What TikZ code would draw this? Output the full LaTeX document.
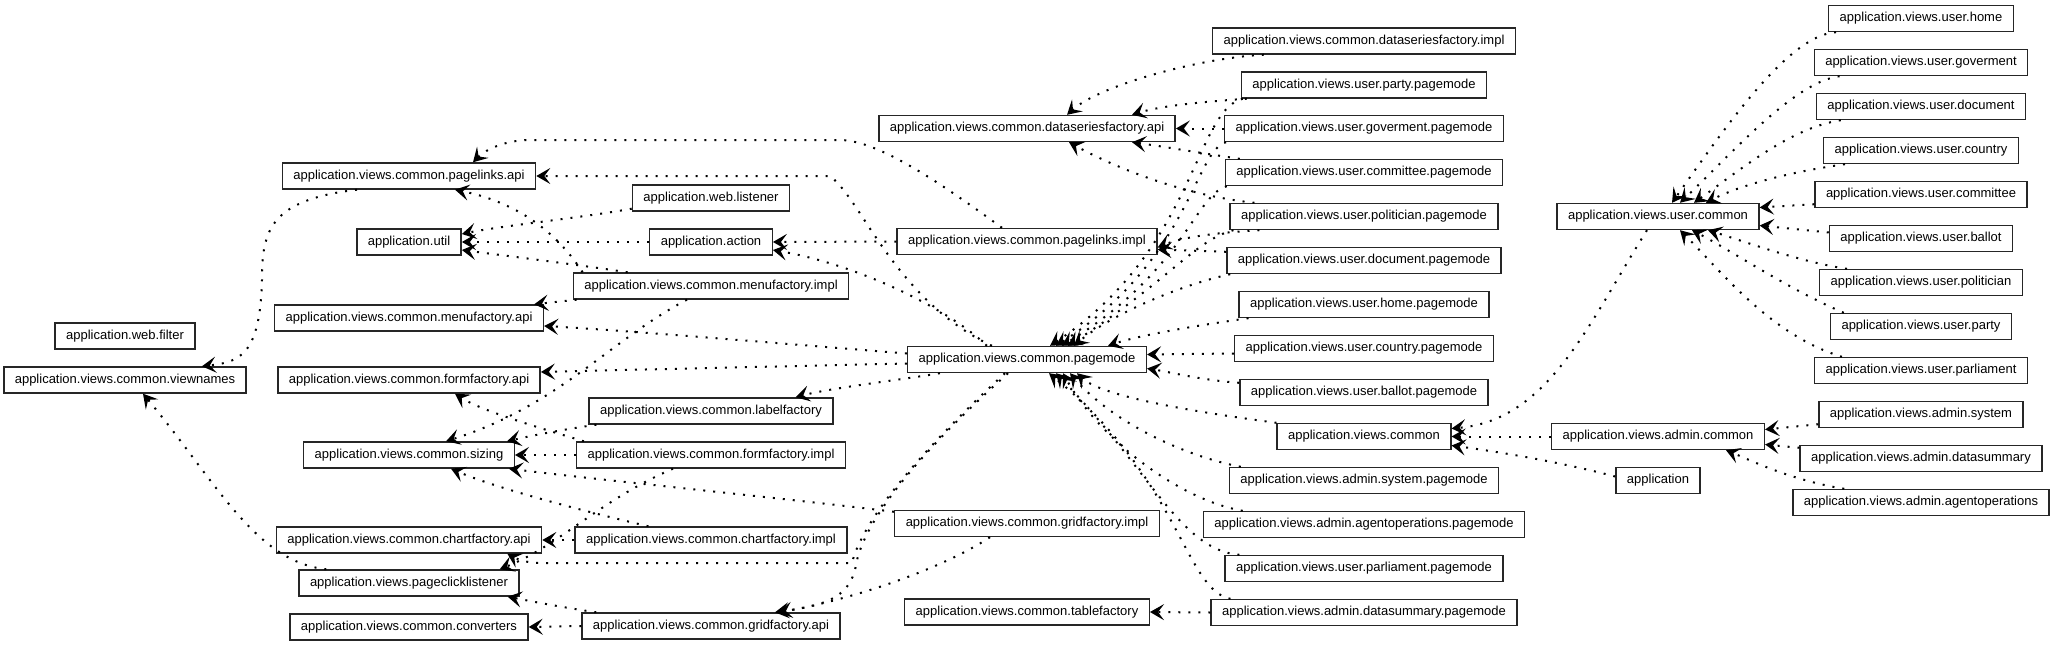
\documentclass[tikz,border=0pt]{standalone}
\usepackage{fontspec}
\setmainfont{Liberation Sans}
\usetikzlibrary{arrows.meta,calc}
\begin{document}
\begin{tikzpicture}[x=1pt,y=-1pt,
  box/.style={draw=black!85, line width=1.4pt, fill=white, inner xsep=11pt, inner ysep=0pt,
    minimum height=26pt, font=\fontsize{13}{15}\selectfont},
  dep/.style={line width=2pt, dash pattern=on 2pt off 8pt,
    -{Stealth[length=14pt,width=16pt,inset=6pt]}}]
\useasboundingbox (0,0) rectangle (2055,645);
% column A
\node[box] (wfilter) at (125,336) {application.web.filter};
\node[box] (viewnames) at (125,380) {application.views.common.viewnames};
% column B
\node[box] (pla) at (409,176) {application.views.common.pagelinks.api};
\node[box] (util) at (409,242) {application.util};
\node[box] (mfa) at (409,318) {application.views.common.menufactory.api};
\node[box] (ffa) at (409,380) {application.views.common.formfactory.api};
\node[box] (sizing) at (409,455) {application.views.common.sizing};
\node[box] (cfa) at (409,540) {application.views.common.chartfactory.api};
\node[box] (pcl) at (409,583) {application.views.pageclicklistener};
\node[box] (conv) at (409,627) {application.views.common.converters};
% column C
\node[box] (wlistener) at (711,198) {application.web.listener};
\node[box] (action) at (711,242) {application.action};
\node[box] (mfi) at (711,286) {application.views.common.menufactory.impl};
\node[box] (labelf) at (711,411) {application.views.common.labelfactory};
\node[box] (ffi) at (711,455) {application.views.common.formfactory.impl};
\node[box] (cfi) at (711,540) {application.views.common.chartfactory.impl};
\node[box] (gfa) at (711,626) {application.views.common.gridfactory.api};
% column D
\node[box] (dsfa) at (1027,128.5) {application.views.common.dataseriesfactory.api};
\node[box] (pli) at (1027,241.5) {application.views.common.pagelinks.impl};
\node[box] (pm) at (1027,359.5) {application.views.common.pagemode};
\node[box] (gfi) at (1027,523.5) {application.views.common.gridfactory.impl};
\node[box] (tablef) at (1027,612) {application.views.common.tablefactory};
% column E
\node[box] (dsfi) at (1364,41) {application.views.common.dataseriesfactory.impl};
\node[box] (party) at (1364,85) {application.views.user.party.pagemode};
\node[box] (gov) at (1364,128.5) {application.views.user.goverment.pagemode};
\node[box] (comm) at (1364,172.5) {application.views.user.committee.pagemode};
\node[box] (pol) at (1364,216.5) {application.views.user.politician.pagemode};
\node[box] (doc) at (1364,260.5) {application.views.user.document.pagemode};
\node[box] (home) at (1364,304.5) {application.views.user.home.pagemode};
\node[box] (country) at (1364,348.5) {application.views.user.country.pagemode};
\node[box] (ballot) at (1364,392.5) {application.views.user.ballot.pagemode};
\node[box] (vcommon) at (1364,436.5) {application.views.common};
\node[box] (asys) at (1364,480.5) {application.views.admin.system.pagemode};
\node[box] (aagent) at (1364,524.5) {application.views.admin.agentoperations.pagemode};
\node[box] (parl) at (1364,568.5) {application.views.user.parliament.pagemode};
\node[box] (adsum) at (1364,612.5) {application.views.admin.datasummary.pagemode};
% column F
\node[box] (ucommon) at (1658,216.5) {application.views.user.common};
\node[box] (acommon) at (1658,436.5) {application.views.admin.common};
\node[box] (app) at (1658,480.5) {application};
% column G
\node[box] (uhome) at (1921,18.5) {application.views.user.home};
\node[box] (ugov) at (1921,62.5) {application.views.user.goverment};
\node[box] (udoc) at (1921,106.5) {application.views.user.document};
\node[box] (ucountry) at (1921,150.5) {application.views.user.country};
\node[box] (ucomm) at (1921,194.5) {application.views.user.committee};
\node[box] (uballot) at (1921,238.5) {application.views.user.ballot};
\node[box] (upol) at (1921,282.5) {application.views.user.politician};
\node[box] (uparty) at (1921,326.5) {application.views.user.party};
\node[box] (uparl) at (1921,370.5) {application.views.user.parliament};
\node[box] (uasys) at (1921,414.5) {application.views.admin.system};
\node[box] (uadsum) at (1921,458.5) {application.views.admin.datasummary};
\node[box] (uaagent) at (1921,502.5) {application.views.admin.agentoperations};

% ---- edges to user.common
\draw[dep] ($(uhome.south west)+(8,0)$) .. controls (1790,35) and (1730,120) .. ($(ucommon.north)+(14,0)$);
\draw[dep] ($(ugov.south west)+(26,0)$) .. controls (1795,82) and (1735,150) .. ($(ucommon.north)+(22,0)$);
\draw[dep] ($(udoc.south west)+(25,0)$) .. controls (1790,128) and (1740,170) .. ($(ucommon.north)+(36,0)$);
\draw[dep] ($(ucountry.south west)+(22,0)$) .. controls (1790,172) and (1740,185) .. ($(ucommon.north)+(48,0)$);
\draw[dep] ($(ucomm.south west)+(0,-4)$) -- ($(ucommon.east)+(0,-9)$);
\draw[dep] ($(uballot.west)+(0,-6)$) -- ($(ucommon.east)+(0,9)$);
\draw[dep] ($(upol.north west)+(28,0)$) .. controls (1800,262) and (1740,240) .. ($(ucommon.south)+(50,0)$);
\draw[dep] ($(uparty.north west)+(14,0)$) .. controls (1790,290) and (1730,250) .. ($(ucommon.south)+(34,0)$);
\draw[dep] ($(uparl.north west)+(28,0)$) .. controls (1770,335) and (1720,270) .. ($(ucommon.south)+(22,0)$);
% ---- edges to admin.common
\draw[dep] ($(uasys.south west)+(0,-4)$) -- ($(acommon.east)+(0,-7)$);
\draw[dep] ($(uadsum.north west)+(0,3)$) -- ($(acommon.east)+(0,8)$);
\draw[dep] ($(uaagent.north west)+(52,0)$) .. controls (1790,480) and (1750,460) .. ($(acommon.south)+(68,0)$);
% ---- edges to views.common
\draw[dep] ($(ucommon.south)+(-11,0)$) .. controls (1590,320) and (1550,420) .. ($(vcommon.east)+(0,-8)$);
\draw[dep] (acommon.west) -- (vcommon.east);
\draw[dep] ($(app.west)+(0,-4)$) .. controls (1560,462) and (1500,452) .. ($(vcommon.east)+(0,9)$);
% ---- edges to pagemode
\draw[dep] (vcommon.north west) .. controls (1180,410) and (1100,395) .. ($(pm.south)+(50,0)$);
\draw[dep] ($(party.south west)+(2,0)$) .. controls (1195,110) and (1195,250) .. ($(pm.north)+(23,0)$);
\draw[dep] ($(gov.south west)+(2,0)$) .. controls (1195,150) and (1190,260) .. ($(pm.north)+(29,0)$);
\draw[dep] ($(comm.south west)+(2,0)$) .. controls (1195,195) and (1185,270) .. ($(pm.north)+(35,0)$);
\draw[dep] ($(pol.south west)+(4,0)$) .. controls (1195,240) and (1170,280) .. ($(pm.north)+(41,0)$);
\draw[dep] ($(doc.south west)+(4,0)$) .. controls (1180,285) and (1110,315) .. ($(pm.north)+(47,0)$);
\draw[dep] ($(home.south west)+(10,0)$) .. controls (1200,325) and (1140,335) .. ($(pm.north)+(81,0)$);
\draw[dep] ($(country.west)+(0,5)$) -- ($(pm.east)+(0,-5)$);
\draw[dep] ($(ballot.north west)+(0,4)$) .. controls (1200,380) and (1170,372) .. ($(pm.east)+(0,9)$);
\draw[dep] ($(asys.north west)+(12,0)$) .. controls (1180,455) and (1110,420) .. ($(pm.south)+(43,0)$);
\draw[dep] ($(aagent.north west)+(40,0)$) .. controls (1180,500) and (1100,440) .. ($(pm.south)+(36,0)$);
\draw[dep] ($(parl.north west)+(15,0)$) .. controls (1180,550) and (1150,470) .. ($(pm.south)+(29,0)$);
\draw[dep] ($(adsum.north west)+(20,0)$) .. controls (1185,590) and (1180,480) .. ($(pm.south)+(22,0)$);
\draw[dep] (adsum.west) -- (tablef.east);
% ---- dataseriesfactory.api
\draw[dep] ($(dsfi.south west)+(52,0)$) .. controls (1200,58) and (1100,85) .. ($(dsfa.north)+(40,0)$);
\draw[dep] ($(party.south west)+(6,0)$) .. controls (1200,102) and (1160,106) .. ($(dsfa.north)+(105,0)$);
\draw[dep] (gov.west) -- (dsfa.east);
\draw[dep] ($(comm.north west)+(15,0)$) .. controls (1200,153) and (1160,146) .. ($(dsfa.south)+(105,0)$);
\draw[dep] ($(pol.north west)+(25,0)$) .. controls (1180,195) and (1110,165) .. ($(dsfa.south)+(42,0)$);
% ---- pagelinks.impl
\draw[dep] ($(pol.south west)+(30,0)$) .. controls (1210,233) and (1180,238) .. ($(pli.east)+(0,6)$);
\draw[dep] ($(doc.north west)+(0,5)$) -- ($(pli.east)+(0,8)$);
\draw[dep] ($(pli.north)+(-25,0)$) .. controls (950,190) and (880,140) .. (840,140) -- (530,140) .. controls (505,140) and (485,150) .. ($(pla.north)+(64,0)$);
\draw[dep] (pli.west) -- (action.east);
% ---- pagemode outgoing
\draw[dep] ($(pm.north west)+(85,0)$) .. controls (895,300) and (862,200) .. (830,176) -- (pla.east);
\draw[dep] ($(pm.north west)+(80,0)$) .. controls (950,310) and (860,265) .. ($(action.east)+(0,8)$);
\draw[dep] ($(pm.west)+(0,-6)$) .. controls (800,345) and (620,330) .. ($(mfa.east)+(0,8)$);
\draw[dep] ($(pm.west)+(0,4)$) .. controls (800,366) and (620,370) .. ($(ffa.east)+(0,-8)$);
\draw[dep] ($(pm.south west)+(33,0)$) .. controls (900,380) and (830,388) .. ($(labelf.north east)+(-38,0)$);
\draw[dep] ($(pm.south)+(-19,0)$) .. controls (900,470) and (862,530) .. (856,565) .. controls (850,600) and (820,606) .. ($(gfa.north)+(64,0)$);
\draw[dep] ($(pm.south)+(-22,0)$) .. controls (900,470) and (860,530) .. (852,563) -- (540,563) .. controls (525,563) and (515,558) .. ($(cfa.south east)+(-35,0)$);
% ---- left part
\draw[dep] (action.west) -- (util.east);
\draw[dep] ($(wlistener.south west)+(0,-3)$) .. controls (580,218) and (500,226) .. ($(util.east)+(0,-8)$);
\draw[dep] ($(mfi.north west)+(55,0)$) .. controls (580,265) and (500,255) .. ($(util.east)+(0,8)$);
\draw[dep] ($(mfi.north west)+(10,0)$) .. controls (565,245) and (530,205) .. ($(pla.south)+(46,0)$);
\draw[dep] ($(mfi.south west)+(4,0)$) -- ($(mfa.north east)+(-10,0)$);
\draw[dep] ($(labelf.south west)+(8,0)$) .. controls (560,430) and (530,436) .. ($(sizing.north east)+(-8,0)$);
\draw[dep] ($(mfi.south)+(-24,0)$) .. controls (610,340) and (560,405) .. ($(sizing.north)+(37,0)$);
\draw[dep] ($(ffi.north west)+(8,0)$) .. controls (530,425) and (480,410) .. ($(ffa.south)+(46,0)$);
\draw[dep] (ffi.west) -- (sizing.east);
\draw[dep] ($(ffi.south)+(-38,0)$) .. controls (600,500) and (560,545) .. ($(pcl.north east)+(-20,0)$);
\draw[dep] (cfi.west) -- (cfa.east);
\draw[dep] ($(cfi.north west)+(74,0)$) .. controls (600,515) and (500,490) .. ($(sizing.south)+(42,0)$);
\draw[dep] ($(gfi.north west)+(0,2)$) .. controls (800,500) and (600,480) .. ($(sizing.south east)+(-6,0)$);
\draw[dep] ($(gfi.south)+(-37,0)$) .. controls (940,570) and (850,600) .. ($(gfa.north)+(67,0)$);
\draw[dep] ($(gfa.north west)+(15,0)$) .. controls (560,607) and (530,601) .. ($(pcl.south east)+(-12,0)$);
\draw[dep] (gfa.west) -- (conv.east);
\draw[dep] ($(pcl.north west)+(28,0)$) .. controls (255,562) and (215,480) .. ($(viewnames.south)+(18,0)$);
\draw[dep] ($(pla.south)+(-52,0)$) .. controls (270,200) and (262,230) .. (262,280) .. controls (260,355) and (240,362) .. ($(viewnames.north east)+(-45,0)$);
\end{tikzpicture}
\end{document}
